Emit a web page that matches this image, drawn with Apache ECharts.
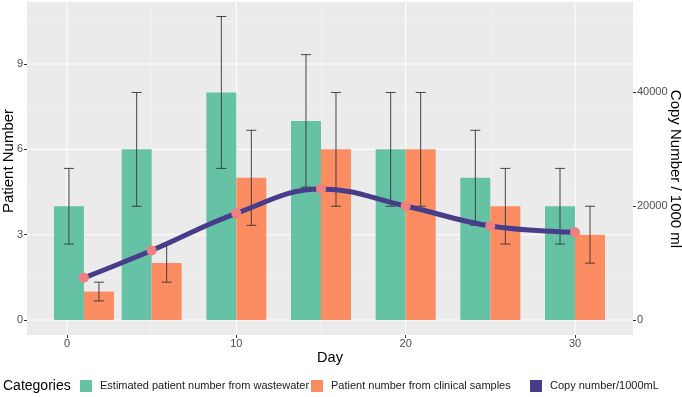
<!DOCTYPE html>
<html>
<head>
<meta charset="utf-8">
<script src="https://cdn.jsdelivr.net/npm/echarts@6/dist/echarts.min.js"></script>
<style>
html,body{margin:0;padding:0;background:#fff;}
#chart{width:682px;height:397px;}
</style>
</head>
<body>
<div id="chart"></div>
<script>
// ---- data ----
const days = [1, 5, 10, 15, 20, 25, 30];
const wastewater = [4, 6, 8, 7, 6, 5, 4];
const wastewaterLow = [2.67, 4, 5.33, 4.67, 4, 3.33, 2.67];
const wastewaterHigh = [5.33, 8, 10.67, 9.33, 8, 6.67, 5.33];
const clinical = [1, 2, 5, 6, 6, 4, 3];
const clinicalLow = [0.67, 1.33, 3.33, 4, 4, 2.67, 2];
const clinicalHigh = [1.33, 2.67, 6.67, 8, 8, 5.33, 4];
const copyNumber = [7400, 12200, 18700, 23000, 20000, 16500, 15400];
const xTicks = [0, 10, 20, 30];
const xMinorTicks = [5, 15, 25];
const yTicks = [0, 3, 6, 9];
const yMinorTicks = [1.5, 4.5, 7.5, 10.5];
const y2Ticks = [0, 20000, 40000];

const seriesNames = ['Estimated patient number from wastewater', 'Patient number from clinical samples', 'Copy number/1000mL'];
const colors = ['#66C2A5', '#FC8D62', '#483D8B'];
const pointColor = '#F08080';
const FONT = 'Liberation Sans, Arial, sans-serif';
const BAR_W = 30;

const chart = echarts.init(document.getElementById('chart'));

const gridData = [];
yTicks.forEach(v => gridData.push(['h', v, 1]));
yMinorTicks.forEach(v => gridData.push(['h', v, 0]));
xTicks.forEach(v => gridData.push(['v', v, 1]));
xMinorTicks.forEach(v => gridData.push(['v', v, 0]));

const errData = [];
days.forEach((d, i) => errData.push([d, wastewaterLow[i], wastewaterHigh[i], -1]));
days.forEach((d, i) => errData.push([d, clinicalLow[i], clinicalHigh[i], 1]));

const plainLabel = v => String(v);

const option = {
  animation: false,
  textStyle: { fontFamily: FONT },
  grid: {
    left: 27, right: 49, top: 2, bottom: 62,
    show: true, backgroundColor: '#EBEBEB', borderWidth: 0
  },
  xAxis: {
    type: 'value', min: -2.362, max: 33.425,
    axisLine: { show: false, onZero: false },
    splitLine: { show: false },
    axisTick: { show: true, inside: false, customValues: xTicks, length: 3, lineStyle: { color: '#333' } },
    axisLabel: { customValues: xTicks, formatter: plainLabel, margin: 3, fontSize: 11, color: '#4D4D4D', fontFamily: FONT }
  },
  yAxis: [{
    type: 'value', min: -0.527, max: 11.18,
    axisLine: { show: false, onZero: false },
    splitLine: { show: false },
    axisTick: { show: true, inside: false, customValues: yTicks, length: 3, lineStyle: { color: '#333' } },
    axisLabel: { customValues: yTicks, formatter: plainLabel, margin: 4, fontSize: 11, color: '#4D4D4D', fontFamily: FONT }
  }, {
    type: 'value', position: 'right', min: -2632, max: 55790,
    axisLine: { show: false, onZero: false },
    splitLine: { show: false },
    axisTick: { show: true, inside: false, customValues: y2Ticks, length: 3, lineStyle: { color: '#333' } },
    axisLabel: { customValues: y2Ticks, formatter: plainLabel, margin: 4, fontSize: 11, color: '#4D4D4D', fontFamily: FONT }
  }],
  legend: [0, 1, 2].map((k, i) => ({
    left: [80, 311, 530][i], top: 380, padding: 0,
    itemWidth: 12, itemHeight: 12,
    icon: 'rect',
    selectedMode: false,
    data: [{ name: seriesNames[k], icon: 'rect', itemStyle: { color: colors[k] } }],
    textStyle: { fontSize: 11, color: '#1A1A1A', fontFamily: FONT, padding: [0, 0, 0, 3] }
  })),
  graphic: [
    { type: 'text', left: 3, top: 379, style: { text: 'Categories', font: '14px ' + FONT, fill: '#000' } },
    { type: 'text', x: 330, y: 358, style: { text: 'Day', font: '14.5px ' + FONT, fill: '#000', align: 'center', verticalAlign: 'middle' } },
    { type: 'text', x: 9, y: 161, rotation: Math.PI / 2, style: { text: 'Patient Number', font: '15px ' + FONT, fill: '#000', align: 'center', verticalAlign: 'middle' } },
    { type: 'text', x: 675, y: 169, rotation: -Math.PI / 2, style: { text: 'Copy Number / 1000 ml', font: '15px ' + FONT, fill: '#000', align: 'center', verticalAlign: 'middle' } }
  ],
  series: [
    {
      type: 'custom', name: 'grid', silent: true, z: 1,
      data: gridData,
      encode: { x: 1, y: 1 },
      renderItem: function (params, api) {
        const cs = params.coordSys;
        const item = gridData[params.dataIndex];
        const v = item[1];
        const major = item[2] === 1;
        const style = { stroke: major ? '#FFFFFF' : '#F5F5F5', lineWidth: major ? 1.1 : 0.6 };
        if (item[0] === 'h') {
          const y = api.coord([0, v])[1];
          return { type: 'line', shape: { x1: cs.x, y1: y, x2: cs.x + cs.width, y2: y }, style: style };
        } else {
          const x = api.coord([v, 0])[0];
          return { type: 'line', shape: { x1: x, y1: cs.y, x2: x, y2: cs.y + cs.height }, style: style };
        }
      }
    },
    {
      type: 'bar', name: seriesNames[0], z: 2,
      data: days.map((d, i) => [d, wastewater[i]]),
      barWidth: BAR_W, barGap: '0%',
      itemStyle: { color: colors[0] }
    },
    {
      type: 'bar', name: seriesNames[1], z: 2,
      data: days.map((d, i) => [d, clinical[i]]),
      barWidth: BAR_W, barGap: '0%',
      itemStyle: { color: colors[1] }
    },
    {
      type: 'custom', name: 'err', silent: true, z: 3,
      data: errData,
      encode: { x: 0, y: [1, 2] },
      renderItem: function (params, api) {
        const lo = api.coord([api.value(0), api.value(1)]);
        const hi = api.coord([api.value(0), api.value(2)]);
        const cx = lo[0] + api.value(3) * BAR_W / 2;
        const h = 5;
        const style = { stroke: '#333', lineWidth: 0.9 };
        return {
          type: 'group',
          children: [
            { type: 'line', shape: { x1: cx, y1: lo[1], x2: cx, y2: hi[1] }, style: style },
            { type: 'line', shape: { x1: cx - h, y1: lo[1], x2: cx + h, y2: lo[1] }, style: style },
            { type: 'line', shape: { x1: cx - h, y1: hi[1], x2: cx + h, y2: hi[1] }, style: style }
          ]
        };
      }
    },
    {
      type: 'line', name: seriesNames[2], yAxisIndex: 1, z: 4,
      data: days.map((d, i) => [d, copyNumber[i]]),
      smooth: 0.4, showSymbol: false,
      lineStyle: { color: colors[2], width: 5 },
      itemStyle: { color: colors[2] }
    },
    {
      type: 'scatter', name: 'points', yAxisIndex: 1, z: 5,
      data: days.map((d, i) => [d, copyNumber[i]]),
      symbolSize: 10,
      itemStyle: { color: pointColor, opacity: 1 }
    }
  ]
};
chart.setOption(option);
</script>
</body>
</html>
